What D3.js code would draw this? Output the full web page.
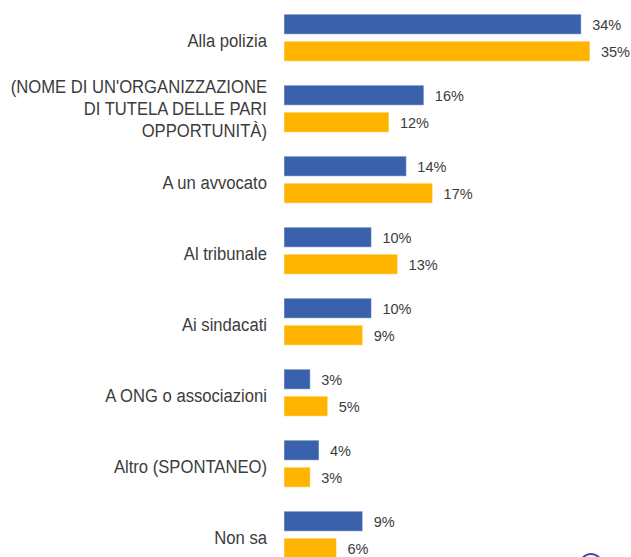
<!DOCTYPE html>
<html>
<head>
<meta charset="utf-8">
<script src="https://cdn.jsdelivr.net/npm/d3@7"></script>
<style>
  html, body { margin: 0; padding: 0; background: #fff; overflow: hidden; }
  svg { display: block; font-family: Arial, "Liberation Sans", sans-serif; }
</style>
</head>
<body>
<svg id="chart" width="631" height="557"></svg>
<script>
const categories = [
  ["Alla polizia"],
  ["(NOME DI UN'ORGANIZZAZIONE", "DI TUTELA DELLE PARI", "OPPORTUNITÀ)"],
  ["A un avvocato"],
  ["Al tribunale"],
  ["Ai sindacati"],
  ["A ONG o associazioni"],
  ["Altro (SPONTANEO)"],
  ["Non sa"]
];
const seriesNames = ["Serie 1", "Serie 2"];
const series1 = [34, 16, 14, 10, 10, 3, 4, 9];
const series2 = [35, 12, 17, 13, 9, 5, 3, 6];
const colors = ["#3a62ac", "#ffb400"];

const svg = d3.select("#chart");
const keys = categories.map(c => c.join(" "));

const x = d3.scaleLinear().domain([0, 40]).range([284, 284 + 8.74 * 40]);
const y = d3.scaleBand().domain(keys).range([2.2, 2.2 + 71 * keys.length]).padding(0);
const ySub = d3.scaleBand().domain(seriesNames).range([-23.5, 23.5]).paddingInner(0.2593);

const data = keys.map((k, i) => ({ key: k, lines: categories[i], values: [series1[i], series2[i]] }));

const g = svg.selectAll("g.group").data(data).join("g")
  .attr("class", "group")
  .attr("transform", d => `translate(0,${y(d.key) + y.bandwidth() / 2})`);

// category labels (slightly condensed, as in the reference)
g.append("g")
  .attr("transform", "translate(267,0) scale(0.9,1)")
  .append("text")
  .attr("text-anchor", "end")
  .attr("fill", "#3c3c3c")
  .attr("font-size", 18.5)
  .each(function(d) {
    const n = d.lines.length;
    const lh = 21.7;
    const off = n > 1 ? 6.2 : 8.8;
    d3.select(this).selectAll("tspan").data(d.lines).join("tspan")
      .attr("x", 0)
      .attr("y", (l, j) => (j - (n - 1) / 2) * lh + off)
      .text(l => l);
  });

// bars
g.selectAll("rect").data(d => d.values.map((v, j) => ({ v, s: seriesNames[j], j })))
  .join("rect")
  .attr("x", x(0))
  .attr("y", d => ySub(d.s))
  .attr("width", d => x(d.v) - x(0))
  .attr("height", ySub.bandwidth())
  .attr("fill", d => colors[d.j])
  .attr("stroke", "#ffffff")
  .attr("stroke-opacity", 0.45)
  .attr("stroke-width", 1);

// value labels
g.selectAll("text.val").data(d => d.values.map((v, j) => ({ v, s: seriesNames[j], j })))
  .join("text")
  .attr("class", "val")
  .attr("x", d => x(d.v) + 11)
  .attr("y", d => ySub(d.s) + ySub.bandwidth() / 2 + 5.6)
  .attr("font-size", 14.5)
  .attr("fill", "#3c3c3c")
  .text(d => d.v + "%");

// partial logo circle at bottom right
svg.append("circle")
  .attr("cx", 591).attr("cy", 565).attr("r", 11)
  .attr("fill", "none").attr("stroke", "#4a4aa0").attr("stroke-width", 2);
</script>
</body>
</html>
